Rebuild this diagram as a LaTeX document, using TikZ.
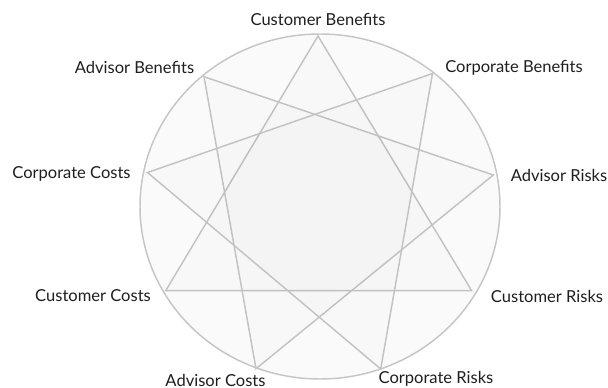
\documentclass[tikz,border=0pt]{standalone}
\usepackage{fontspec}
\setmainfont{Lato}
\begin{document}
\begin{tikzpicture}[x=0.75pt,y=-0.75pt,
  lbl/.style={inner sep=0pt,font=\fontsize{12.4pt}{14pt}\selectfont,text=black!88},
  tri/.style={draw=edgegray,line width=1.1pt,fill=black,fill opacity=0.007,line join=miter},
  pt/.style={inner sep=0pt,minimum size=0pt}]
\definecolor{edgegray}{HTML}{C3C3C6}
\definecolor{ringgray}{HTML}{C6C6C8}
\definecolor{discfill}{HTML}{FAFAFA}
\useasboundingbox (0,0) rectangle (608,388);
\fill[white] (0,0) rectangle (608,388);
% ring
\draw[ringgray,line width=1.1pt,fill=discfill] (320,206.5) ellipse [x radius=180, y radius=172.5];
% star points
\coordinate (cb) at (318,36);
\coordinate (pb) at (432.5,73.5);
\coordinate (ar) at (493.3,175);
\coordinate (ur) at (471.7,290.7);
\coordinate (pr) at (380.7,369);
\coordinate (ac) at (256,368.7);
\coordinate (uc) at (165.7,290.7);
\coordinate (pc) at (147.5,172.5);
\coordinate (ab) at (204,76.7);
% triangles
\draw[tri] (cb) -- (ur) -- (uc) -- cycle;
\draw[tri] (ab) -- (ar) -- (ac) -- cycle;
\draw[tri] (pb) -- (pr) -- (pc) -- cycle;
% labels
\node[lbl] (lcb) at (318,19) {Customer Benefits};
\node[lbl] (lab) at (134.5,67) {Advisor Benefits};
\node[lbl] (lpb) at (514,68) {Corporate Benefits};
\node[lbl] (lpc) at (71.5,174) {Corporate Costs};
\node[lbl] (lar) at (559,175) {Advisor Risks};
\node[lbl] (luc) at (93,296) {Customer Costs};
\node[lbl] (lur) at (547,296) {Customer Risks};
\node[lbl] (lac) at (215.5,380) {Advisor Costs};
\node[lbl] (lpr) at (436,379) {Corporate Risks};
\end{tikzpicture}
\end{document}
